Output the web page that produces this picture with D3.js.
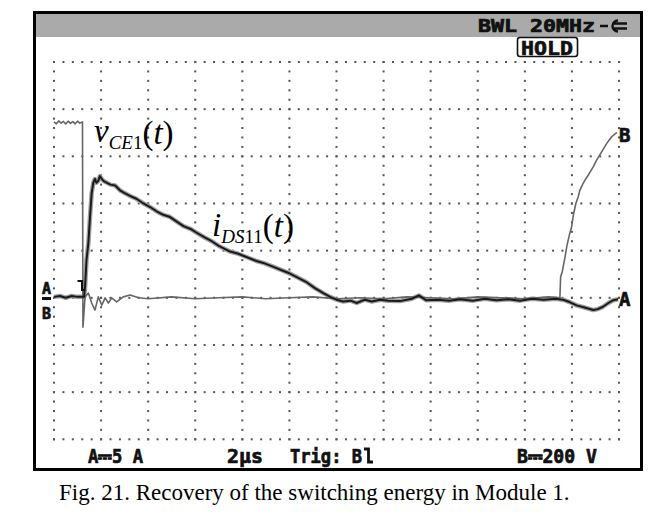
<!DOCTYPE html>
<html>
<head>
<meta charset="utf-8">
<script src="https://cdn.jsdelivr.net/npm/d3@7"></script>
<style>
  html, body { margin: 0; padding: 0; background: #fff; }
  svg { display: block; }
</style>
</head>
<body>
<svg id="chart" width="662" height="519"></svg>
<script>
// ---- data (time in µs, channel A in amps, channel B in volts) ----
const timeA = [0.00,0.25,0.50,0.75,1.00,1.28,1.32,1.38,1.46,1.53,1.60,1.67,1.74,1.80,1.88,1.95,2.03,2.10,2.17,2.40,2.60,2.80,3.00,3.23,3.50,3.80,4.10,4.40,4.64,4.90,5.20,5.50,5.80,6.06,6.40,6.70,7.00,7.48,7.80,8.20,8.60,8.89,9.30,9.70,10.00,10.31,10.70,11.10,11.44,11.73,12.00,12.28,12.60,12.86,13.20,13.50,13.85,14.20,14.70,15.20,15.50,15.80,16.30,16.80,17.25,17.80,18.30,18.80,19.30,19.80,20.30,20.80,21.30,21.62,21.90,22.20,22.50,22.91,23.10,23.32,23.55,23.76,23.96];
const currentA = [0.1,0.2,0.0,0.2,0.1,0.1,1.2,4.0,5.8,8.6,11.1,12.2,12.6,12.2,12.4,12.9,12.6,12.4,12.3,12.0,11.9,11.4,11.1,10.8,10.5,10.0,9.6,9.1,8.8,8.6,8.1,7.6,7.3,6.9,6.4,6.0,5.5,4.9,4.7,4.3,3.9,3.7,3.3,2.9,2.6,2.2,1.7,1.0,0.5,0.1,-0.2,-0.4,-0.3,-0.55,-0.2,-0.4,-0.2,-0.3,-0.35,-0.1,0.25,-0.25,-0.2,-0.3,-0.15,-0.3,-0.1,-0.25,-0.15,-0.3,-0.1,-0.2,-0.1,-0.2,-0.45,-0.8,-1.0,-1.3,-1.2,-0.95,-0.55,-0.25,-0.15];

const timeB = [0.00,0.10,0.20,0.30,0.40,0.50,0.60,0.70,0.80,0.90,1.00,1.10,1.21,1.23,1.32,1.46,1.60,1.74,1.88,2.03,2.17,2.31,2.45,2.66,2.94,3.23,3.60,4.00,5.00,6.00,7.00,8.00,9.00,10.00,11.00,12.00,13.00,14.00,15.00,16.00,17.00,18.00,19.00,20.00,21.00,21.49,21.52,21.59,21.71,21.78,21.89,21.99,22.06,22.17,22.27,22.34,22.44,22.56,22.70,22.91,23.05,23.27,23.48,23.69,23.91];
const voltageB = [746,738,750,741,748,737,749,740,747,738,749,741,746,-125,4,20,-22,-52,4,-31,0,-22,0,-17,4,12,0,-4,4,-4,0,4,-4,0,4,-4,0,-4,4,0,-4,4,0,-4,4,0,89,111,174,217,266,302,351,401,429,457,478,500,521,556,584,620,655,683,702];

// screen settings
const timeDomain = [0, 24];        // 12 div x 2 µs
const divDomain = [-3, 5];         // 8 vertical divisions, zero at 3 div up
const ampsPerDiv = 5;
const voltsPerDiv = 200;

const headerText = "BWL 20MHz";
const holdText = "HOLD";
const footer = [
  {text: "A\u23935 A", x: 88, len: 55},
  {text: "2\u00b5s", x: 227, len: 36},
  {text: "Trig: B", x: 290, len: 72},
  {text: "B\u2393200 V", x: 517, len: 80}
];
const caption = "Fig. 21. Recovery of the switching energy in Module 1.";

// ---- drawing ----
const svg = d3.select("#chart");
const mono = "'DejaVu Sans Mono', monospace";
const serif = "'Liberation Serif', 'Times New Roman', serif";

const x = d3.scaleLinear().domain(timeDomain).range([54, 619]);
const yDiv = d3.scaleLinear().domain(divDomain).range([439.3, 62]);
const yA = d3.scaleLinear().domain(divDomain.map(d => d * ampsPerDiv)).range(yDiv.range());
const yB = d3.scaleLinear().domain(divDomain.map(d => d * voltsPerDiv)).range(yDiv.range());

function scopeText(sel) {
  return sel.attr("font-family", mono).attr("font-weight", "bold")
    .attr("fill", "#111").attr("stroke", "#111").attr("stroke-width", 0.7);
}

// frame and header
svg.append("rect").attr("x", 34.5).attr("y", 12.5).attr("width", 607).attr("height", 457)
  .attr("fill", "#fff").attr("stroke", "#000").attr("stroke-width", 3);
svg.append("rect").attr("x", 36).attr("y", 14).attr("width", 604).attr("height", 23)
  .attr("fill", "#aaaaaa");

scopeText(svg.append("text").attr("x", 478).attr("y", 32).attr("font-size", 17)
  .attr("textLength", 117).attr("lengthAdjust", "spacingAndGlyphs")).text(headerText);
// plug icon
svg.append("path")
  .attr("d", "M600,26 H608 M618,20.5 A5.5,5.5 0 1 0 618,31.5 M614,23.5 H627 M614,28.5 H627")
  .attr("fill", "none").attr("stroke", "#111").attr("stroke-width", 2.4);

svg.append("rect").attr("x", 517.5).attr("y", 37.5).attr("width", 60).attr("height", 19).attr("rx", 2.5)
  .attr("fill", "#fff").attr("stroke", "#111").attr("stroke-width", 1.6);
scopeText(svg.append("text").attr("x", 521).attr("y", 55).attr("font-size", 20)
  .attr("textLength", 52).attr("lengthAdjust", "spacingAndGlyphs")).text(holdText);

// dotted graticule
const dots = [];
d3.range(0, 9).forEach(r => {
  const yy = yDiv(divDomain[1] - r);
  d3.range(0, 61).forEach(k => dots.push([x(k * 0.4), yy]));
});
d3.range(0, 13).forEach(c => {
  const xx = x(c * 2);
  d3.range(0, 41).forEach(k => dots.push([xx, yDiv(divDomain[0] + k * 0.2)]));
});
svg.append("g").selectAll("rect").data(dots).join("rect")
  .attr("x", d => d[0] - 1).attr("y", d => d[1] - 1)
  .attr("width", 2).attr("height", 2).attr("fill", "#555");

// traces
const lineA = d3.line().x((d, i) => x(timeA[i])).y(d => yA(d));
const lineB = d3.line().x((d, i) => x(timeB[i])).y(d => yB(d));

svg.append("path").attr("d", lineA(currentA))
  .attr("fill", "none").attr("stroke", "#a0a0a0").attr("stroke-width", 4.5).attr("stroke-linejoin", "round");

svg.append("path").attr("d", lineB(voltageB))
  .attr("fill", "none").attr("stroke", "#666").attr("stroke-width", 1.6).attr("stroke-linejoin", "round");

svg.append("path").attr("d", lineA(currentA))
  .attr("fill", "none").attr("stroke", "#1a1a1a").attr("stroke-width", 2).attr("stroke-linejoin", "round");

// channel markers
scopeText(svg.append("text").attr("x", 42).attr("y", 294).attr("font-size", 15)).text("A");
svg.append("rect").attr("x", 42).attr("y", 297).attr("width", 9).attr("height", 3).attr("fill", "#111");
scopeText(svg.append("text").attr("x", 42).attr("y", 319).attr("font-size", 15)).text("B");

scopeText(svg.append("text").attr("x", 619).attr("y", 142).attr("font-size", 19)).text("B");
scopeText(svg.append("text").attr("x", 619).attr("y", 306).attr("font-size", 19)).text("A");

// trigger marker
svg.append("path").attr("d", "M77.5,281 H82 V290 H85")
  .attr("fill", "none").attr("stroke", "#111").attr("stroke-width", 2);

// footer
footer.forEach(f => {
  scopeText(svg.append("text").attr("x", f.x).attr("y", 463).attr("font-size", 20)
    .attr("textLength", f.len).attr("lengthAdjust", "spacingAndGlyphs")).text(f.text);
});
// trigger slope symbol after "Trig: B"
svg.append("path").attr("d", "M364,449 H368.5 V462 H373")
  .attr("fill", "none").attr("stroke", "#111").attr("stroke-width", 2.8);

// math labels
const v = svg.append("text").attr("font-family", serif).attr("fill", "#000");
v.append("tspan").attr("x", 94).attr("y", 142).attr("font-size", 33).attr("font-style", "italic").text("v");
v.append("tspan").attr("y", 149).attr("font-size", 19).attr("font-style", "italic").text("CE");
v.append("tspan").attr("font-size", 19).text("1");
v.append("tspan").attr("y", 144).attr("font-size", 33).text("(");
v.append("tspan").attr("font-size", 33).attr("font-style", "italic").text("t");
v.append("tspan").attr("font-size", 33).text(")");

const ii = svg.append("text").attr("font-family", serif).attr("fill", "#000");
ii.append("tspan").attr("x", 212).attr("y", 236).attr("font-size", 33).attr("font-style", "italic").text("i");
ii.append("tspan").attr("y", 243).attr("font-size", 19).attr("font-style", "italic").text("DS");
ii.append("tspan").attr("font-size", 19).text("11");
ii.append("tspan").attr("y", 237).attr("font-size", 33).text("(");
ii.append("tspan").attr("font-size", 33).attr("font-style", "italic").text("t");
ii.append("tspan").attr("font-size", 33).text(")");

// caption
svg.append("text").attr("x", 59).attr("y", 500)
  .attr("font-family", serif).attr("font-size", 23).attr("fill", "#000").text(caption);
</script>
</body>
</html>
